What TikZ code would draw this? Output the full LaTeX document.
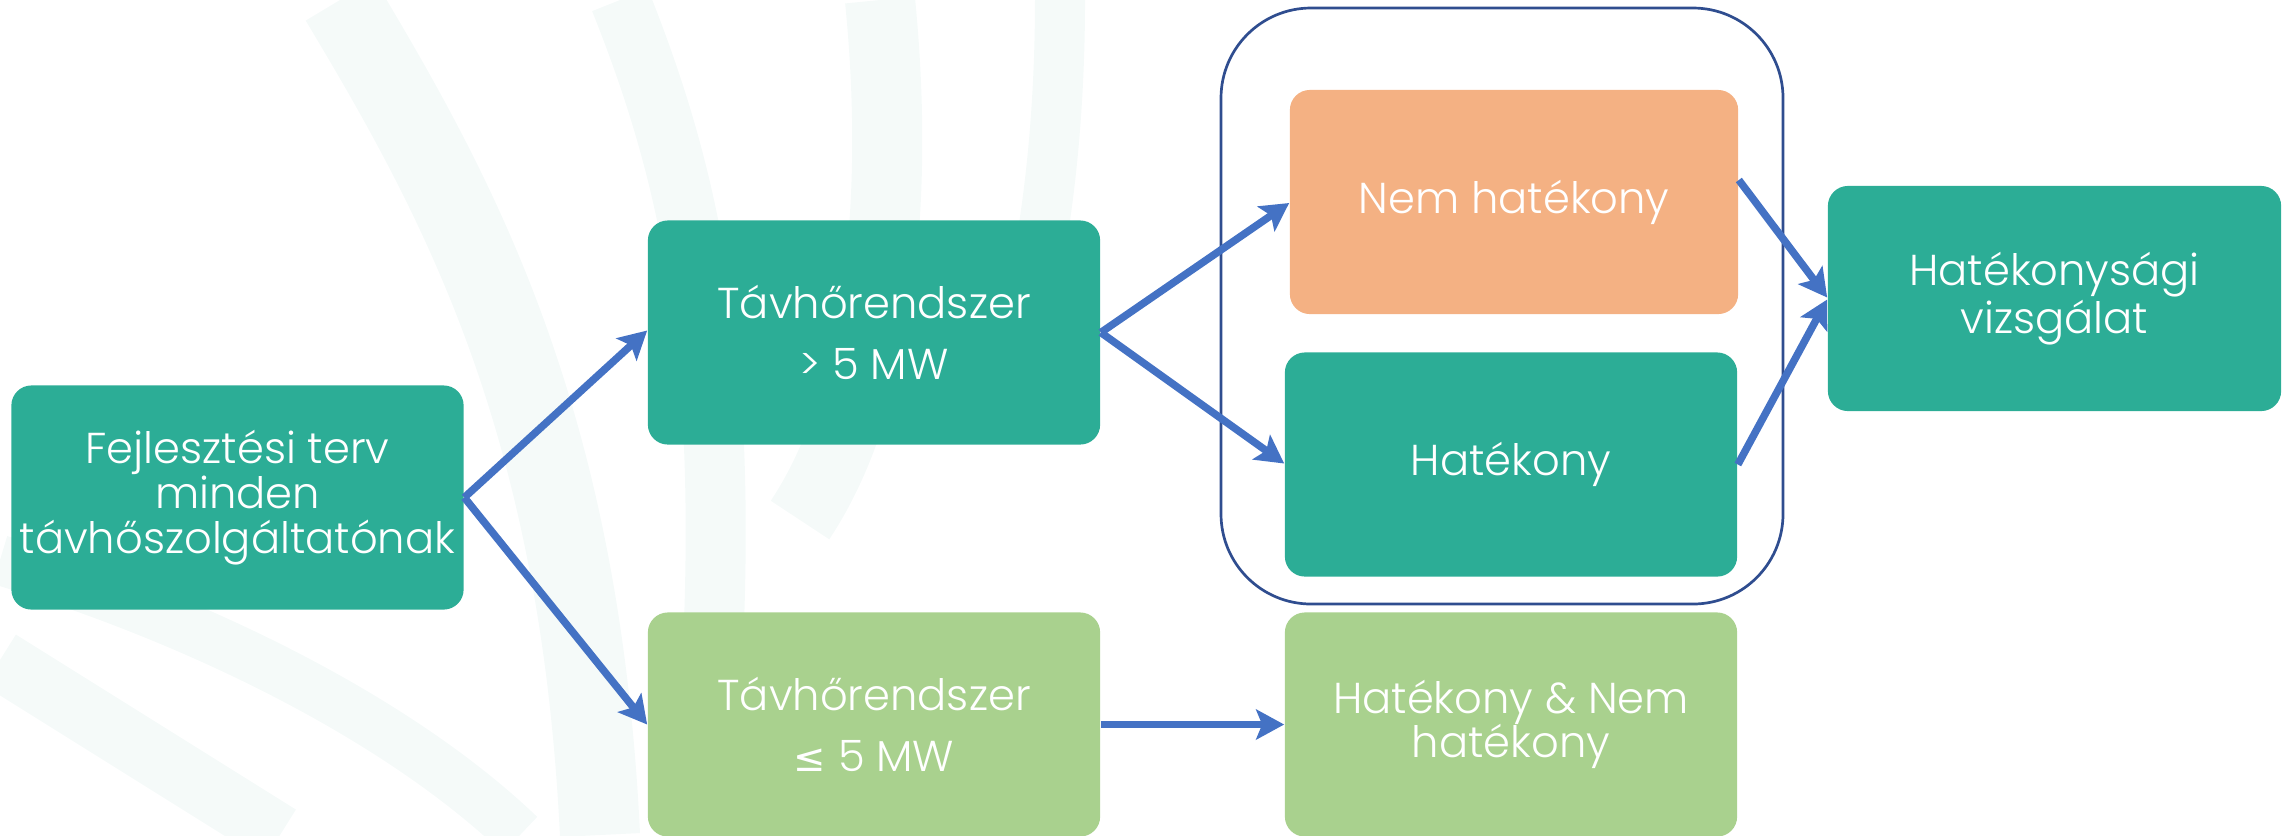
\documentclass[tikz,border=0pt]{standalone}
\usepackage{fontspec}
\setmainfont{Poppins}[UprightFont=* Light]
\newfontfamily\symfont{DejaVu Sans}
\usetikzlibrary{arrows.meta}
\definecolor{teal}{HTML}{2CAD96}
\definecolor{orangebox}{HTML}{F4B183}
\definecolor{greenbox}{HTML}{A9D18E}
\definecolor{arrowblue}{HTML}{4472C4}
\definecolor{outlineblue}{HTML}{2F4D8F}
\definecolor{wm}{HTML}{F5FAF9}
\tikzset{
  box/.style={rectangle, rounded corners=0.2cm, minimum width=4.52cm, minimum height=2.24cm,
    inner sep=0pt, text=white, align=center, font=\fontsize{12.3}{12.7}\selectfont},
  tealbox/.style={box, fill=teal},
  orbox/.style={box, fill=orangebox},
  grbox/.style={box, fill=greenbox},
  conn/.style={draw=arrowblue, line width=0.075cm,
    -{Stealth[length=0.28cm, width=0.3cm, inset=0.06cm]}},
  wmband/.style={draw=wm, line cap=butt}
}
\begin{document}
\begin{tikzpicture}[x=0.01cm, y=-0.01cm]
\useasboundingbox (0,0) rectangle (2285,835);
% faint watermark
\draw[wmband, line width=0.8cm] (340,0) .. controls (460,200) and (580,420) .. (600,835);
\draw[wmband, line width=0.6cm] (620,0) .. controls (700,200) and (740,400) .. (700,835);
\draw[wmband, line width=0.7cm] (880,0) .. controls (900,200) and (880,400) .. (800,520);
\draw[wmband, line width=0.5cm] (1060,0) .. controls (1060,150) and (1040,300) .. (1000,400);
\draw[wmband, line width=0.6cm] (0,660) -- (280,835);
\draw[wmband, line width=0.5cm] (0,560) .. controls (200,620) and (400,720) .. (520,835);
% group outline
\draw[outlineblue, line width=0.027cm, rounded corners=0.9cm] (1221,8) rectangle (1783,604);
% nodes
\node[tealbox] (A) at (237.5,497.5) {Fejlesztési terv\\minden\\távhőszolgáltatónak};
\node[tealbox] (B) at (874,332.5) {Távhőrendszer\\[4.7pt]> 5 MW};
\node[grbox] (C) at (874,724.5) {Távhőrendszer\\[4.7pt]{\symfont\fontsize{11}{12}\selectfont ≤} 5 MW};
\node[orbox, minimum width=4.48cm] (D) at (1514,202) {Nem hatékony};
\node[tealbox] (E) at (1511,464.5) {Hatékony};
\node[grbox] (F) at (1511,724.5) {Hatékony \& Nem\\hatékony};
\node[tealbox, minimum width=4.53cm, minimum height=2.25cm] (G) at (2054.5,298.5) {Hatékonysági\\vizsgálat};
% connectors
\draw[conn] (A.east) -- ([yshift=0.02cm]B.west);
\draw[conn] (A.east) -- (C.west);
\draw[conn] (B.east) -- ([yshift=-0.01cm]D.west);
\draw[conn] (B.east) -- ([yshift=0.01cm]E.west);
\draw[conn] ([yshift=0.22cm]D.east) -- ([yshift=0.01cm]G.west);
\draw[conn] (E.east) -- ([yshift=-0.01cm]G.west);
\draw[conn] (C.east) -- (F.west);
\end{tikzpicture}
\end{document}
